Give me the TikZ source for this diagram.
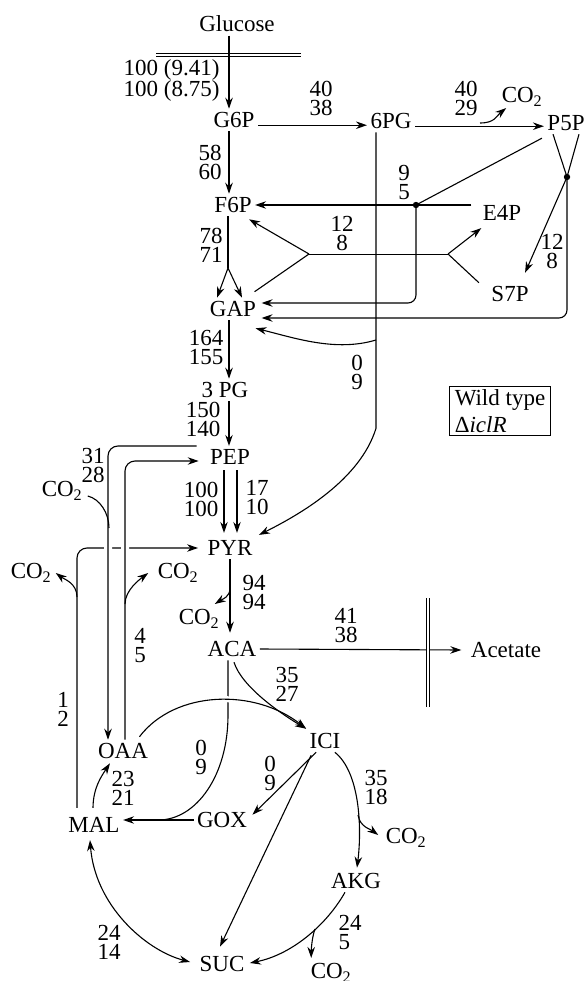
\documentclass[tikz,border=0pt]{standalone}
\usepackage{fontspec}
\setmainfont{Liberation Serif}
\usetikzlibrary{arrows.meta, positioning, calc}

\begin{document}
\begin{tikzpicture}[
    x=1pt, y=-1pt,
    line width=1.1pt,
    met/.style={inner sep=3pt, font=\fontsize{23}{23}\selectfont},
    flujo/.style={align=center, inner sep=0pt, font=\fontsize{23}{19}\selectfont},
    flecha/.style={-{Stealth[length=11pt, width=7.5pt]}},
    doble/.style={{Stealth[length=11pt, width=7.5pt]}-{Stealth[length=11pt, width=7.5pt]}},
    puente/.style={preaction={draw=white, line width=8pt}},
    membrana/.style={double, double distance=2.6pt, line width=0.9pt},
    fina/.style={line width=0.6pt}
]
\useasboundingbox (0,0) rectangle (585,981);

\node[met] (glc) at (237,24) {Glucose};
\node[met] (G6P) at (234,120) {G6P};
\node[met] (pg6) at (391,121) {6PG};
\node[met] (P5P) at (566,123) {P5P};
\node[met] (co2a) at (522,97) {CO\textsubscript{2}};
\node[met] (F6P) at (233,205) {F6P};
\node[met] (E4P) at (502,213) {E4P};
\node[met] (S7P) at (510,294) {S7P};
\node[met] (GAP) at (233,309) {GAP};
\node[met] (pg3) at (225,390) {3 PG};
\node[met] (PEP) at (230,457) {PEP};
\node[met] (PYR) at (230,548) {PYR};
\node[met] (co2b) at (62,491) {CO\textsubscript{2}};
\node[met] (co2c) at (31,573) {CO\textsubscript{2}};
\node[met] (co2d) at (178,573) {CO\textsubscript{2}};
\node[met] (co2e) at (199,619) {CO\textsubscript{2}};
\node[met] (ACA) at (232,649) {ACA};
\node[met] (acet) at (506,650) {Acetate};
\node[met] (OAA) at (123,751) {OAA};
\node[met] (ICI) at (325,741) {ICI};
\node[met] (GOX) at (222,820) {GOX};
\node[met] (MAL) at (94,825) {MAL};
\node[met] (co2f) at (406,838) {CO\textsubscript{2}};
\node[met] (AKG) at (356,881) {AKG};
\node[met] (SUC) at (222,964) {SUC};
\node[met] (co2g) at (331,973) {CO\textsubscript{2}};
\node[draw, line width=0.8pt, align=left, inner xsep=5pt, inner ysep=3pt,
      font=\fontsize{23}{27}\selectfont] (leyenda) at (500,411) {Wild type\\Δ\textit{iclR}};

\coordinate (ax) at (229,0);
\coordinate (ax2) at (230,0);
\coordinate (d1) at (416,205);
\coordinate (d2) at (567,177);
\coordinate (tl) at (309,254);
\coordinate (tr) at (448,254);
\coordinate (sp) at (228,268);
\coordinate (v1) at (376,340);
\coordinate (b1) at (480,123);
\coordinate (m1) at (109,528);
\coordinate (m2) at (77,597);
\coordinate (m3) at (125,604);
\coordinate (b3) at (230,588);
\coordinate (b4) at (358,815);
\coordinate (b5) at (315,929);

\draw[membrana] (156,55) -- (301,55);
\draw[flecha] (glc.south -| ax) -- (G6P.north -| ax);
\draw[flecha] (G6P.mid east) -- (G6P.mid east -| pg6.west);
\draw[flecha] (pg6.mid east) -- (pg6.mid east -| P5P.west);
\draw[flecha] (b1) .. controls +(15,0) and +(-10,8) .. ($(co2a.south west)+(8,-2)$);
\draw[flecha] ([xshift=-15pt]pg6.south) -- ++(0,296) .. controls +(-16,52) and +(40,-20) .. ($(PYR.north east)+(3,-2)$);
\draw[flecha] (v1) .. controls +(-40,12) and +(40,10) .. ($(GAP.south east)+(-4,8)$);

\draw[flecha] (G6P.south -| ax) -- (F6P.north -| ax);
\draw[flecha] ([xshift=-8pt]E4P.west |- F6P.east) -- (F6P.east);
\fill (d1) circle (3.2pt);
\draw (d1) -- ($(P5P.south west)+(-2,4)$);
\draw[flecha, rounded corners=8pt] (d1) |- ($(GAP.east)+(2,-6)$);
\draw ($(P5P.south)+(-13,0)$) -- (d2);
\draw ($(P5P.south)+(13,0)$) -- (d2);
\fill (d2) circle (3.2pt);
\draw[flecha] (d2) -- ($(S7P.north east)+(-7,-10)$);
\draw[flecha, rounded corners=8pt] (d2) |- ($(GAP.east)+(2,9)$);

\draw[fina] (tl) -- (tr);
\draw[flecha] (tl) -- ($(F6P.south east)+(-6,3)$);
\draw (tl) -- ($(GAP.north east)+(-5,-6)$);
\draw[flecha] (tr) -- ($(E4P.south west)+(2,4)$);
\draw (tr) -- ($(S7P.north west)+(-9,0)$);

\draw (F6P.south -| sp) -- (sp);
\draw[flecha] (sp) -- ($(GAP.north)+(-16,0)$);
\draw[flecha] (sp) -- ($(GAP.north)+(9,0)$);
\draw[flecha] (GAP.south -| ax) -- (pg3.north -| ax);
\draw[flecha] (pg3.south -| ax) -- (PEP.north -| ax);

\draw[flecha, rounded corners=10pt] ($(MAL.north)+(-17,-6)$) |- ($(PYR.west)+(-6,0)$);
\draw[flecha, puente, rounded corners=10pt] ($(PEP.west)+(-10,-11)$) -| ($(OAA.north)+(-15,0)$);
\draw[flecha, puente, rounded corners=10pt] ($(OAA.north)+(2,0)$) |- ($(PEP.west)+(-8,4)$);
\draw ($(co2b.east)+(2,5)$) .. controls +(12,3) and +(0,-15) .. (m1);
\draw[flecha] (m2) .. controls +(0,-14) and +(8,6) .. ($(co2c.east)+(1,0)$);
\draw[flecha] (m3) .. controls +(0,-14) and +(-8,6) .. ($(co2d.west)+(-6,0)$);

\draw[flecha] ($(PEP.south)+(-6,2)$) -- ($(PYR.north)+(-6,-4)$);
\draw[flecha] ($(PEP.south)+(7,2)$) -- ($(PYR.north)+(7,-4)$);
\draw[flecha] (PYR.south -| ax2) -- ($(ACA.north -| ax2)+(0,-5)$);
\draw[flecha] (b3) .. controls +(0,9) and +(8,-5) .. ($(co2e.north east)+(-8,-2)$);
\draw[flecha] (ACA.east) -- ($(acet.west)+(-6,0)$);
\draw[membrana] (428,598) -- (428,707);

\draw ($(ACA.south)+(-4,0)$) -- ++(0,55) .. controls +(0,60) and +(38,0) .. ($(GOX.west)!0.5!(GOX.west -| MAL.east)$);
\draw[flecha] (GOX.west) -- (GOX.west -| MAL.east);
\draw[flecha, preaction={draw=white, line width=6pt}] ($(OAA.north east)+(-12,-3)$) .. controls (175,690) and (255,688) .. ($(ICI.north west)+(0,-1)$);
\draw[flecha] ($(ACA.south)+(2,2)$) .. controls +(8,25) and +(-25,-15) .. ($(ICI.north west)+(0,-1)$);

\draw[flecha] ($(ICI.south west)+(10,0)$) -- ($(GOX.north east)+(2,6)$);
\draw[flecha] ($(ICI.south west)+(5,3)$) -- ($(SUC.north)+(-2,-6)$);
\draw[flecha] ($(ICI.south east)+(-9,0)$) .. controls +(25,20) and +(5,-40) .. ($(AKG.north)+(1,-2)$);
\draw[flecha] (b4) .. controls +(2,12) and +(-8,-6) .. ($(co2f.west)+(-4,-3)$);
\draw[flecha] ($(AKG.south)+(-11,0)$) .. controls +(-20,35) and +(40,-8) .. ($(SUC.east)+(2,-1)$);
\draw[flecha] (b5) .. controls +(-3,8) and +(0,-8) .. ($(co2g.north west)+(4,-2)$);
\draw[flecha] ($(MAL.north)+(-1,-6)$) .. controls +(0,-20) and +(-8,12) .. ($(OAA.south)+(-13,1)$);
\draw[doble] ($(MAL.south)+(-4,4)$) .. controls +(5,65) and +(-45,-12) .. ($(SUC.west)+(-6,-2)$);

\node[flujo, anchor=east, align=right] (f1) at (220,80.5) {100 (9.41)\\100 (8.75)};
\node[flujo] (f2) at (321,98) {40\\38};
\node[flujo] (f3) at (466,98) {40\\29};
\node[flujo] (f4) at (210,162.5) {58\\60};
\node[flujo] (f5) at (404,182.5) {9\\5};
\node[flujo] (f6) at (342,233) {12\\8};
\node[flujo] (f7) at (552,251) {12\\8};
\node[flujo] (f8) at (211,245) {78\\71};
\node[flujo] (f9) at (206,347.5) {164\\155};
\node[flujo] (f10) at (357,372.5) {0\\9};
\node[flujo] (f11) at (203,419) {150\\140};
\node[flujo] (f12) at (93,465) {31\\28};
\node[flujo, anchor=east, align=right] (f13) at (219,499) {100\\100};
\node[flujo] (f14) at (257,497.5) {17\\10};
\node[flujo] (f15) at (140,646) {4\\5};
\node[flujo] (f16) at (63,709) {1\\2};
\node[flujo] (f17) at (254,592.5) {94\\94};
\node[flujo] (f18) at (346,626) {41\\38};
\node[flujo] (f19) at (287,684) {35\\27};
\node[flujo] (f20) at (201,757) {0\\9};
\node[flujo] (f21) at (270,773) {0\\9};
\node[flujo] (f22) at (376,787.5) {35\\18};
\node[flujo] (f23) at (123,788) {23\\21};
\node[flujo, anchor=west, align=left] (f24) at (338,932) {24\\5};
\node[flujo] (f25) at (109,942.5) {24\\14};
\end{tikzpicture}
\end{document}
